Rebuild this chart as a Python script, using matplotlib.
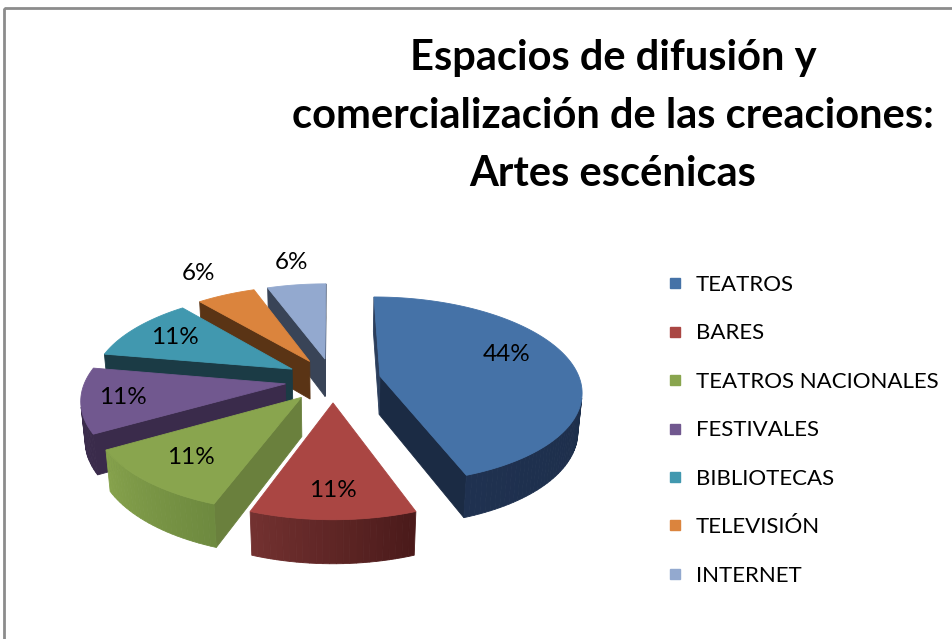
import numpy as np
import matplotlib
matplotlib.use("Agg")
import matplotlib.pyplot as plt
from matplotlib.patches import Polygon, Rectangle
from matplotlib.lines import Line2D
from matplotlib.colors import to_rgb

# ---------------- data ----------------
categories = ["TEATROS", "BARES", "TEATROS NACIONALES", "FESTIVALES",
              "BIBLIOTECAS", "TELEVISIÓN", "INTERNET"]
counts = [8, 2, 2, 2, 2, 1, 1]
title_lines = ["Espacios de difusión y",
               "comercialización de las creaciones:",
               "Artes escénicas"]

# ---------------- styles ----------------
top_colors = ["#4572A7", "#AA4643", "#89A54E", "#71588F", "#4198AF", "#DB843D", "#93A9CF"]
# side (cut) faces: (face at lower angle, face at higher angle)
cut_colors = [("#1B2B44", "#2B3E5C"), ("#5A2221", "#5A2221"), ("#6A803D", "#6A803D"),
              ("#3A2B4B", "#3A2B4B"), ("#1B3B45", "#1B3B45"), ("#5A3415", "#5A3415"),
              ("#394457", "#394457")]
# outer wall gradient (colour at lower angle, colour at higher angle)
wall_colors = [("#1F3150", "#1A2A42"), ("#733130", "#4A1A1A"), ("#86A24C", "#6E8A3F"),
               ("#3E2F50", "#3A2B4B"), ("#1B3B45", "#1B3B45"), ("#5A3415", "#5A3415"),
               ("#394457", "#394457")]
label_r = [0.71, 0.78, 0.74, 0.80, 0.74, 1.38, 1.36]
label_dang = [10, 0, 0, 0, 0, 0, -1]

W, H = 953, 639
CX, CY = 333, 380          # pixel position of pie origin
F, D = 1200.0, 6.0         # focal scale, camera distance
SP = 0.46
CP = np.sqrt(1 - SP ** 2)
EXPLODE = 0.24
DEPTH = 0.22

FONT = ["Lato", "DejaVu Sans"]

fig = plt.figure(figsize=(W / 100, H / 100), dpi=100)
ax = fig.add_axes([0, 0, 1, 1])
ax.set_xlim(0, W)
ax.set_ylim(H, 0)
ax.axis("off")


def to_px(X, Y, Z):
    d = D + Y * CP - Z * SP
    u = F * X / d
    v = F * (Y * SP + Z * CP) / d
    return CX + u, CY - v


cam = np.array([0.0, -D * CP, D * SP])


def visible(P, n):
    return np.dot(cam - np.asarray(P), np.asarray(n)) > 0


def mix(c1, c2, t):
    a, b = np.array(to_rgb(c1)), np.array(to_rgb(c2))
    return tuple((1 - t) * a + t * b)


def face(pts, color, z):
    ax.add_patch(Polygon([to_px(*p) for p in pts], closed=True, facecolor=color,
                         edgecolor=color, linewidth=0.6, zorder=z))


total = float(sum(counts))
fracs = [c / total for c in counts]
slices = []
cum = 0.0
for i, f in enumerate(fracs):
    hi = 90 - cum * 360
    lo = hi - f * 360
    cum += f
    bis = np.radians((lo + hi) / 2)
    off = (EXPLODE * np.cos(bis), EXPLODE * np.sin(bis))
    slices.append((i, lo, hi, off))

# painter order: farthest first
order = sorted(slices, key=lambda s: -s[3][1])
z = 1
for i, lo, hi, (ox, oy) in order:
    n = max(10, int((hi - lo) / 1.5))
    th = np.radians(np.linspace(lo, hi, n))
    # cut faces
    for ang, ncol, sign in ((lo, cut_colors[i][0], -1), (hi, cut_colors[i][1], 1)):
        a = np.radians(ang)
        na = a + sign * np.pi / 2
        nrm = (np.cos(na), np.sin(na), 0)
        rx, ry = ox + np.cos(a), oy + np.sin(a)
        mid = ((ox + rx) / 2, (oy + ry) / 2, -DEPTH / 2)
        if visible(mid, nrm):
            face([(ox, oy, 0), (rx, ry, 0), (rx, ry, -DEPTH), (ox, oy, -DEPTH)], ncol, z)
    # outer wall
    for k in range(n - 1):
        tm = (th[k] + th[k + 1]) / 2
        P = (ox + np.cos(tm), oy + np.sin(tm), -DEPTH / 2)
        if visible(P, (np.cos(tm), np.sin(tm), 0)):
            t = (np.degrees(tm) - lo) / (hi - lo)
            col = mix(wall_colors[i][0], wall_colors[i][1], t)
            pts = [(ox + np.cos(th[k]), oy + np.sin(th[k]), 0),
                   (ox + np.cos(th[k + 1]), oy + np.sin(th[k + 1]), 0),
                   (ox + np.cos(th[k + 1]), oy + np.sin(th[k + 1]), -DEPTH),
                   (ox + np.cos(th[k]), oy + np.sin(th[k]), -DEPTH)]
            face(pts, col, z)
    # top face
    top = [(ox, oy, 0)] + [(ox + np.cos(t_), oy + np.sin(t_), 0) for t_ in th]
    face(top, top_colors[i], z + 0.5)
    z += 1

# percentage labels
for i, lo, hi, (ox, oy) in slices:
    a = np.radians((lo + hi) / 2 + label_dang[i])
    r = label_r[i]
    px, py = to_px(ox + r * np.cos(a), oy + r * np.sin(a), 0)
    ax.text(px, py, f"{round(100 * fracs[i])}%", ha="center", va="center",
            fontsize=17.5, family=FONT, color="#000000", zorder=50)

# title
for k, line in enumerate(title_lines):
    ax.text(613, 70 + 58 * k, line, ha="center", va="baseline", fontsize=30,
            fontweight="bold", family=FONT, color="#000000", zorder=50)

# legend
handles = [Line2D([], [], marker="s", linestyle="none", markersize=6.5,
                  markerfacecolor=c, markeredgecolor=c) for c in top_colors]
fig.legend(handles, categories, loc="upper left",
           bbox_to_anchor=(668 / W, 1 - 275 / H), frameon=False,
           prop={"family": FONT, "size": 16}, handlelength=0.6,
           handletextpad=0.65, labelspacing=1.28, borderpad=0, borderaxespad=0)

# chart frame (clipped at right / bottom like the reference)
ax.add_patch(Rectangle((4, 8), W, H, fill=False, edgecolor="#8C8C8C",
                       linewidth=2, zorder=60))

fig.savefig("out.png", dpi=100)
